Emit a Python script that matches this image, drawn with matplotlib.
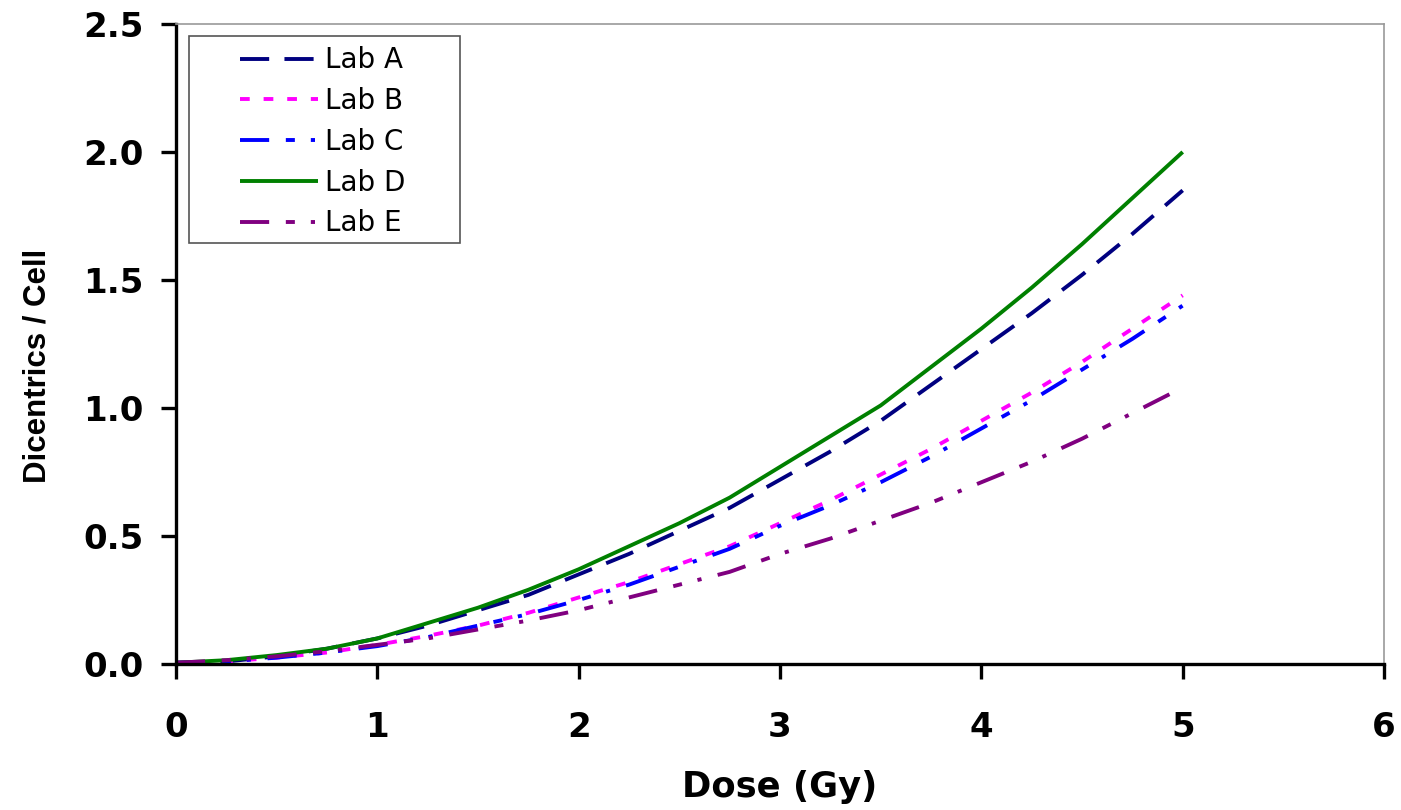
import matplotlib
matplotlib.use("Agg")
import matplotlib.pyplot as plt
from matplotlib.patches import Rectangle

# Data
dose = [0, 0.25, 0.5, 0.75, 1, 1.25, 1.5, 1.75, 2, 2.25, 2.5,
        2.75, 3, 3.25, 3.5, 3.75, 4, 4.25, 4.5, 4.75, 5]

lab_a = [0.005, 0.01, 0.03, 0.06, 0.10, 0.15, 0.21, 0.27, 0.35, 0.43, 0.52,
         0.61, 0.72, 0.83, 0.95, 1.09, 1.23, 1.37, 1.52, 1.68, 1.85]
lab_b = [0.005, 0.01, 0.025, 0.045, 0.075, 0.11, 0.15, 0.20, 0.26, 0.32, 0.39,
         0.46, 0.55, 0.64, 0.74, 0.84, 0.95, 1.06, 1.18, 1.31, 1.44]
lab_c = [0.005, 0.01, 0.025, 0.045, 0.07, 0.105, 0.15, 0.195, 0.25, 0.31, 0.38,
         0.45, 0.54, 0.62, 0.71, 0.81, 0.92, 1.03, 1.15, 1.27, 1.40]
lab_d = [0.005, 0.015, 0.035, 0.06, 0.10, 0.16, 0.22, 0.29, 0.37, 0.46, 0.55,
         0.65, 0.77, 0.89, 1.01, 1.16, 1.31, 1.47, 1.64, 1.82, 2.00]
lab_e = [0.005, 0.015, 0.03, 0.05, 0.075, 0.10, 0.135, 0.17, 0.21, 0.26, 0.31,
         0.36, 0.43, 0.49, 0.56, 0.63, 0.71, 0.79, 0.88, 0.98, 1.08]

labels = ["Lab A", "Lab B", "Lab C", "Lab D", "Lab E"]
colors = ["#000080", "#ff00ff", "#0000ff", "#008000", "#800080"]
dashes = [(21, 11), (7, 10), (21, 12, 6.5, 11.5, 3, 12), None, (21, 12, 6.5, 11.5, 3, 12)]

plt.rcParams["font.family"] = ["DejaVu Sans"]
plt.rcParams["lines.scale_dashes"] = False

fig = plt.figure(figsize=(14.01, 8.10), dpi=100)
ax = fig.add_axes([0.1256, 0.1802, 0.8623, 0.7902])

for y, lab, c, d in zip([lab_a, lab_b, lab_c, lab_d, lab_e], labels, colors, dashes):
    line, = ax.plot(dose, y, color=c, lw=2.8, label=lab, solid_capstyle="butt")
    if d is not None:
        line.set_dashes(d)
        line.set_dash_capstyle("butt")

ax.set_xlim(0, 6)
ax.set_ylim(0, 2.5)
ax.set_xticks(range(0, 7))
ax.set_yticks([0, 0.5, 1.0, 1.5, 2.0, 2.5])
ax.set_yticklabels(["0.0", "0.5", "1.0", "1.5", "2.0", "2.5"])

for s in ["left", "bottom"]:
    ax.spines[s].set_linewidth(2.4)
    ax.spines[s].set_color("black")
for s in ["top", "right"]:
    ax.spines[s].set_linewidth(1.2)
    ax.spines[s].set_color("#999999")

ax.tick_params(axis="both", direction="out", length=10.5, width=2.4, labelsize=24.5)
ax.tick_params(axis="x", pad=23)
ax.tick_params(axis="y", pad=13)
for t in ax.get_xticklabels() + ax.get_yticklabels():
    t.set_fontweight("bold")

ax.set_xlabel("Dose (Gy)", fontsize=25.5, fontweight="bold")
ax.xaxis.set_label_coords(0.5, -0.165)
ax.set_ylabel("Dicentrics / Cell", fontsize=22.5, fontweight="bold",
              family=["Liberation Sans", "DejaVu Sans"])
ax.yaxis.set_label_coords(-0.1026, 0.466)

# legend box
ax.add_patch(Rectangle((0.0108, 0.658), 0.2243, 0.323, transform=ax.transAxes,
                       facecolor="white", edgecolor="#555555", lw=1.2, zorder=4))
leg = ax.legend(loc="upper left", bbox_to_anchor=(0.053, 0.965), fontsize=20,
                frameon=False, handlelength=2.8, handletextpad=0.27,
                labelspacing=0.46, borderpad=0, borderaxespad=0)
leg.set_zorder(5)

fig.savefig("out.png", dpi=100)
